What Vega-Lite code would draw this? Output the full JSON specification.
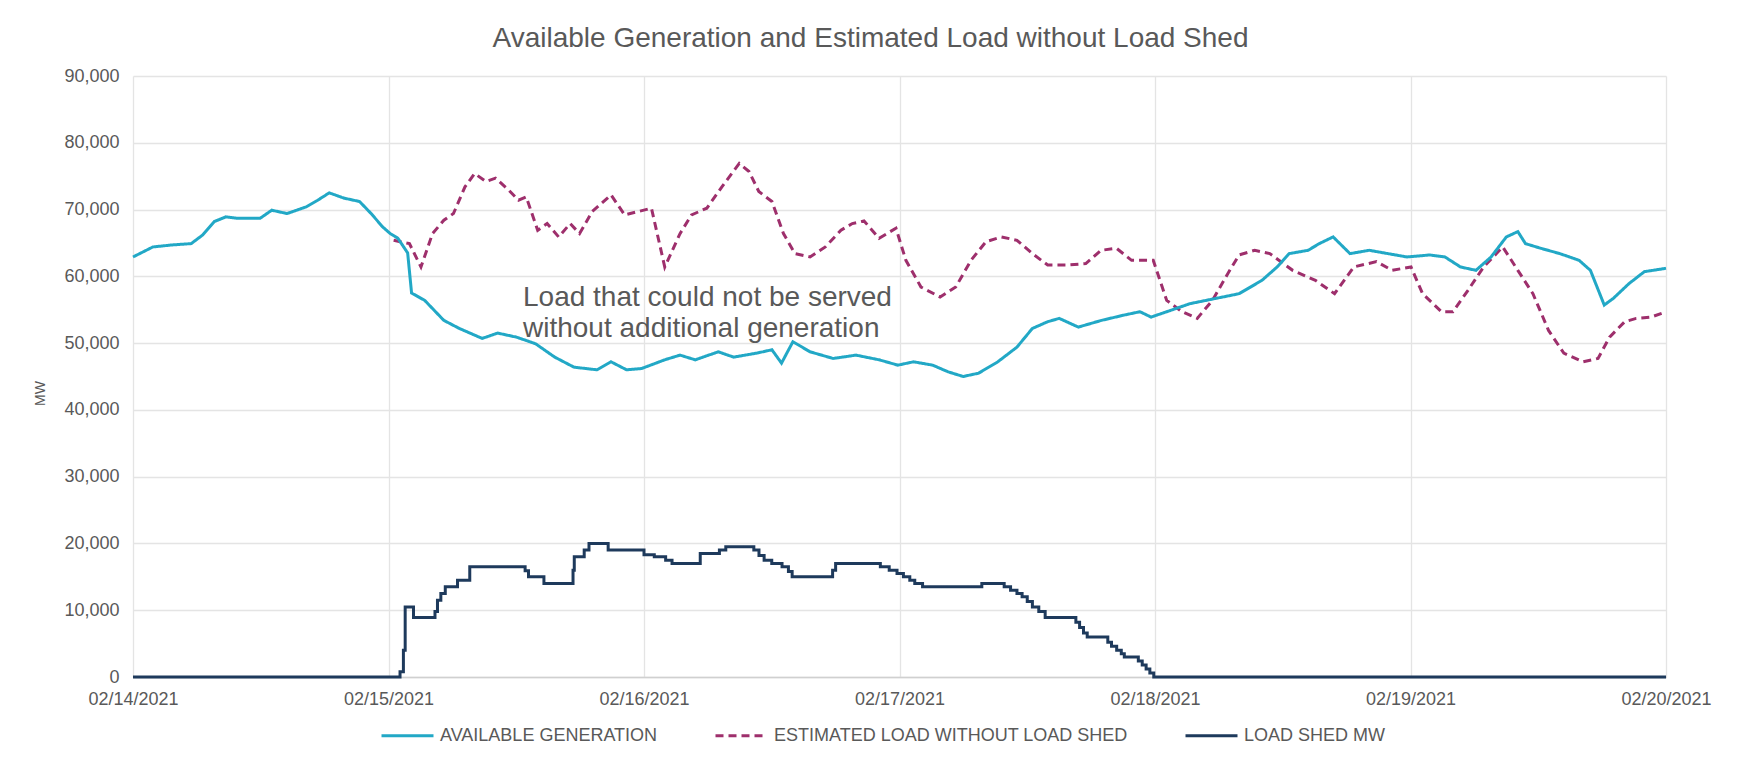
{
  "$schema": "https://vega.github.io/schema/vega-lite/v6.json",
  "width": 1533,
  "height": 601,
  "autosize": {"type": "none"},
  "padding": {"left": 133, "top": 76, "right": 71, "bottom": 85},
  "background": "white",
  "config": {
    "font": "Liberation Sans",
    "view": {"stroke": null},
    "legend": {
      "orient": "none",
      "legendX": 247,
      "legendY": 632,
      "direction": "horizontal",
      "columns": 3,
      "columnPadding": 51,
      "gridAlign": "each",
      "symbolType": "stroke",
      "symbolSize": 2704,
      "symbolStrokeWidth": 3,
      "labelFontSize": 18,
      "labelColor": "#595959",
      "labelOffset": 5,
      "labelLimit": 0
    }
  },
  "title": {
    "text": "Available Generation and Estimated Load without Load Shed",
    "fontSize": 28,
    "fontWeight": "normal",
    "color": "#595959",
    "anchor": "middle",
    "dx": -29,
    "offset": 14
  },
  "datasets": {
    "series": [
      {"t": "2021-02-14T00:00", "s": "AVAILABLE GENERATION", "v": 62900},
      {"t": "2021-02-14T01:52", "s": "AVAILABLE GENERATION", "v": 64400},
      {"t": "2021-02-14T03:40", "s": "AVAILABLE GENERATION", "v": 64700},
      {"t": "2021-02-14T05:28", "s": "AVAILABLE GENERATION", "v": 64900},
      {"t": "2021-02-14T06:33", "s": "AVAILABLE GENERATION", "v": 66200},
      {"t": "2021-02-14T07:38", "s": "AVAILABLE GENERATION", "v": 68200},
      {"t": "2021-02-14T08:43", "s": "AVAILABLE GENERATION", "v": 68900},
      {"t": "2021-02-14T09:48", "s": "AVAILABLE GENERATION", "v": 68700},
      {"t": "2021-02-14T11:57", "s": "AVAILABLE GENERATION", "v": 68700},
      {"t": "2021-02-14T13:02", "s": "AVAILABLE GENERATION", "v": 69900},
      {"t": "2021-02-14T14:28", "s": "AVAILABLE GENERATION", "v": 69400},
      {"t": "2021-02-14T16:16", "s": "AVAILABLE GENERATION", "v": 70400},
      {"t": "2021-02-14T17:21", "s": "AVAILABLE GENERATION", "v": 71400},
      {"t": "2021-02-14T18:26", "s": "AVAILABLE GENERATION", "v": 72500},
      {"t": "2021-02-14T19:51", "s": "AVAILABLE GENERATION", "v": 71700},
      {"t": "2021-02-14T21:17", "s": "AVAILABLE GENERATION", "v": 71200},
      {"t": "2021-02-14T22:22", "s": "AVAILABLE GENERATION", "v": 69400},
      {"t": "2021-02-14T23:27", "s": "AVAILABLE GENERATION", "v": 67400},
      {"t": "2021-02-15T00:10", "s": "AVAILABLE GENERATION", "v": 66400},
      {"t": "2021-02-15T00:53", "s": "AVAILABLE GENERATION", "v": 65700},
      {"t": "2021-02-15T01:48", "s": "AVAILABLE GENERATION", "v": 63500},
      {"t": "2021-02-15T02:10", "s": "AVAILABLE GENERATION", "v": 57500},
      {"t": "2021-02-15T03:24", "s": "AVAILABLE GENERATION", "v": 56400},
      {"t": "2021-02-15T05:12", "s": "AVAILABLE GENERATION", "v": 53400},
      {"t": "2021-02-15T06:39", "s": "AVAILABLE GENERATION", "v": 52200},
      {"t": "2021-02-15T08:48", "s": "AVAILABLE GENERATION", "v": 50700},
      {"t": "2021-02-15T10:15", "s": "AVAILABLE GENERATION", "v": 51500},
      {"t": "2021-02-15T12:01", "s": "AVAILABLE GENERATION", "v": 50900},
      {"t": "2021-02-15T13:49", "s": "AVAILABLE GENERATION", "v": 49900},
      {"t": "2021-02-15T15:37", "s": "AVAILABLE GENERATION", "v": 47900},
      {"t": "2021-02-15T17:25", "s": "AVAILABLE GENERATION", "v": 46400},
      {"t": "2021-02-15T19:35", "s": "AVAILABLE GENERATION", "v": 46000},
      {"t": "2021-02-15T20:54", "s": "AVAILABLE GENERATION", "v": 47200},
      {"t": "2021-02-15T22:22", "s": "AVAILABLE GENERATION", "v": 46000},
      {"t": "2021-02-15T23:47", "s": "AVAILABLE GENERATION", "v": 46200},
      {"t": "2021-02-16T01:57", "s": "AVAILABLE GENERATION", "v": 47500},
      {"t": "2021-02-16T03:23", "s": "AVAILABLE GENERATION", "v": 48200},
      {"t": "2021-02-16T04:49", "s": "AVAILABLE GENERATION", "v": 47500},
      {"t": "2021-02-16T06:59", "s": "AVAILABLE GENERATION", "v": 48700},
      {"t": "2021-02-16T08:25", "s": "AVAILABLE GENERATION", "v": 47900},
      {"t": "2021-02-16T10:35", "s": "AVAILABLE GENERATION", "v": 48500},
      {"t": "2021-02-16T12:01", "s": "AVAILABLE GENERATION", "v": 49000},
      {"t": "2021-02-16T12:55", "s": "AVAILABLE GENERATION", "v": 47000},
      {"t": "2021-02-16T13:59", "s": "AVAILABLE GENERATION", "v": 50200},
      {"t": "2021-02-16T15:36", "s": "AVAILABLE GENERATION", "v": 48700},
      {"t": "2021-02-16T17:46", "s": "AVAILABLE GENERATION", "v": 47700},
      {"t": "2021-02-16T19:55", "s": "AVAILABLE GENERATION", "v": 48200},
      {"t": "2021-02-16T22:05", "s": "AVAILABLE GENERATION", "v": 47500},
      {"t": "2021-02-16T23:51", "s": "AVAILABLE GENERATION", "v": 46700},
      {"t": "2021-02-17T01:19", "s": "AVAILABLE GENERATION", "v": 47200},
      {"t": "2021-02-17T03:07", "s": "AVAILABLE GENERATION", "v": 46700},
      {"t": "2021-02-17T04:34", "s": "AVAILABLE GENERATION", "v": 45700},
      {"t": "2021-02-17T05:59", "s": "AVAILABLE GENERATION", "v": 45000},
      {"t": "2021-02-17T07:26", "s": "AVAILABLE GENERATION", "v": 45500},
      {"t": "2021-02-17T09:14", "s": "AVAILABLE GENERATION", "v": 47200},
      {"t": "2021-02-17T11:02", "s": "AVAILABLE GENERATION", "v": 49400},
      {"t": "2021-02-17T12:29", "s": "AVAILABLE GENERATION", "v": 52200},
      {"t": "2021-02-17T13:55", "s": "AVAILABLE GENERATION", "v": 53200},
      {"t": "2021-02-17T15:00", "s": "AVAILABLE GENERATION", "v": 53700},
      {"t": "2021-02-17T16:48", "s": "AVAILABLE GENERATION", "v": 52400},
      {"t": "2021-02-17T18:58", "s": "AVAILABLE GENERATION", "v": 53400},
      {"t": "2021-02-17T21:06", "s": "AVAILABLE GENERATION", "v": 54200},
      {"t": "2021-02-17T22:35", "s": "AVAILABLE GENERATION", "v": 54700},
      {"t": "2021-02-17T23:38", "s": "AVAILABLE GENERATION", "v": 53900},
      {"t": "2021-02-18T01:28", "s": "AVAILABLE GENERATION", "v": 54900},
      {"t": "2021-02-18T03:16", "s": "AVAILABLE GENERATION", "v": 55900},
      {"t": "2021-02-18T05:44", "s": "AVAILABLE GENERATION", "v": 56700},
      {"t": "2021-02-18T07:54", "s": "AVAILABLE GENERATION", "v": 57400},
      {"t": "2021-02-18T10:03", "s": "AVAILABLE GENERATION", "v": 59400},
      {"t": "2021-02-18T11:28", "s": "AVAILABLE GENERATION", "v": 61400},
      {"t": "2021-02-18T12:36", "s": "AVAILABLE GENERATION", "v": 63400},
      {"t": "2021-02-18T14:23", "s": "AVAILABLE GENERATION", "v": 63900},
      {"t": "2021-02-18T15:26", "s": "AVAILABLE GENERATION", "v": 64900},
      {"t": "2021-02-18T16:44", "s": "AVAILABLE GENERATION", "v": 65900},
      {"t": "2021-02-18T18:19", "s": "AVAILABLE GENERATION", "v": 63400},
      {"t": "2021-02-18T20:07", "s": "AVAILABLE GENERATION", "v": 63900},
      {"t": "2021-02-18T21:53", "s": "AVAILABLE GENERATION", "v": 63400},
      {"t": "2021-02-18T23:40", "s": "AVAILABLE GENERATION", "v": 62900},
      {"t": "2021-02-19T01:49", "s": "AVAILABLE GENERATION", "v": 63200},
      {"t": "2021-02-19T03:14", "s": "AVAILABLE GENERATION", "v": 62900},
      {"t": "2021-02-19T04:42", "s": "AVAILABLE GENERATION", "v": 61400},
      {"t": "2021-02-19T06:09", "s": "AVAILABLE GENERATION", "v": 60900},
      {"t": "2021-02-19T07:34", "s": "AVAILABLE GENERATION", "v": 62900},
      {"t": "2021-02-19T09:00", "s": "AVAILABLE GENERATION", "v": 65900},
      {"t": "2021-02-19T10:05", "s": "AVAILABLE GENERATION", "v": 66700},
      {"t": "2021-02-19T10:48", "s": "AVAILABLE GENERATION", "v": 64900},
      {"t": "2021-02-19T12:14", "s": "AVAILABLE GENERATION", "v": 64200},
      {"t": "2021-02-19T14:02", "s": "AVAILABLE GENERATION", "v": 63400},
      {"t": "2021-02-19T15:50", "s": "AVAILABLE GENERATION", "v": 62400},
      {"t": "2021-02-19T16:54", "s": "AVAILABLE GENERATION", "v": 60900},
      {"t": "2021-02-19T18:12", "s": "AVAILABLE GENERATION", "v": 55700},
      {"t": "2021-02-19T19:03", "s": "AVAILABLE GENERATION", "v": 56700},
      {"t": "2021-02-19T20:31", "s": "AVAILABLE GENERATION", "v": 58900},
      {"t": "2021-02-19T21:58", "s": "AVAILABLE GENERATION", "v": 60700},
      {"t": "2021-02-20T00:00", "s": "AVAILABLE GENERATION", "v": 61200},

      {"t": "2021-02-15T00:29", "s": "ESTIMATED LOAD WITHOUT LOAD SHED", "v": 65400},
      {"t": "2021-02-15T01:58", "s": "ESTIMATED LOAD WITHOUT LOAD SHED", "v": 64900},
      {"t": "2021-02-15T03:03", "s": "ESTIMATED LOAD WITHOUT LOAD SHED", "v": 61400},
      {"t": "2021-02-15T04:08", "s": "ESTIMATED LOAD WITHOUT LOAD SHED", "v": 66400},
      {"t": "2021-02-15T05:12", "s": "ESTIMATED LOAD WITHOUT LOAD SHED", "v": 68400},
      {"t": "2021-02-15T06:06", "s": "ESTIMATED LOAD WITHOUT LOAD SHED", "v": 69400},
      {"t": "2021-02-15T07:11", "s": "ESTIMATED LOAD WITHOUT LOAD SHED", "v": 73400},
      {"t": "2021-02-15T08:05", "s": "ESTIMATED LOAD WITHOUT LOAD SHED", "v": 75400},
      {"t": "2021-02-15T09:09", "s": "ESTIMATED LOAD WITHOUT LOAD SHED", "v": 74200},
      {"t": "2021-02-15T10:03", "s": "ESTIMATED LOAD WITHOUT LOAD SHED", "v": 74700},
      {"t": "2021-02-15T11:18", "s": "ESTIMATED LOAD WITHOUT LOAD SHED", "v": 72900},
      {"t": "2021-02-15T12:13", "s": "ESTIMATED LOAD WITHOUT LOAD SHED", "v": 71400},
      {"t": "2021-02-15T12:56", "s": "ESTIMATED LOAD WITHOUT LOAD SHED", "v": 71900},
      {"t": "2021-02-15T14:01", "s": "ESTIMATED LOAD WITHOUT LOAD SHED", "v": 66900},
      {"t": "2021-02-15T14:54", "s": "ESTIMATED LOAD WITHOUT LOAD SHED", "v": 67900},
      {"t": "2021-02-15T15:59", "s": "ESTIMATED LOAD WITHOUT LOAD SHED", "v": 65900},
      {"t": "2021-02-15T17:04", "s": "ESTIMATED LOAD WITHOUT LOAD SHED", "v": 67900},
      {"t": "2021-02-15T17:57", "s": "ESTIMATED LOAD WITHOUT LOAD SHED", "v": 66400},
      {"t": "2021-02-15T19:08", "s": "ESTIMATED LOAD WITHOUT LOAD SHED", "v": 69700},
      {"t": "2021-02-15T20:54", "s": "ESTIMATED LOAD WITHOUT LOAD SHED", "v": 72200},
      {"t": "2021-02-15T22:11", "s": "ESTIMATED LOAD WITHOUT LOAD SHED", "v": 69200},
      {"t": "2021-02-16T00:42", "s": "ESTIMATED LOAD WITHOUT LOAD SHED", "v": 70200},
      {"t": "2021-02-16T01:57", "s": "ESTIMATED LOAD WITHOUT LOAD SHED", "v": 61400},
      {"t": "2021-02-16T03:23", "s": "ESTIMATED LOAD WITHOUT LOAD SHED", "v": 66400},
      {"t": "2021-02-16T04:28", "s": "ESTIMATED LOAD WITHOUT LOAD SHED", "v": 69200},
      {"t": "2021-02-16T05:54", "s": "ESTIMATED LOAD WITHOUT LOAD SHED", "v": 70200},
      {"t": "2021-02-16T07:19", "s": "ESTIMATED LOAD WITHOUT LOAD SHED", "v": 73400},
      {"t": "2021-02-16T08:57", "s": "ESTIMATED LOAD WITHOUT LOAD SHED", "v": 76900},
      {"t": "2021-02-16T09:52", "s": "ESTIMATED LOAD WITHOUT LOAD SHED", "v": 75700},
      {"t": "2021-02-16T10:47", "s": "ESTIMATED LOAD WITHOUT LOAD SHED", "v": 72700},
      {"t": "2021-02-16T12:01", "s": "ESTIMATED LOAD WITHOUT LOAD SHED", "v": 71200},
      {"t": "2021-02-16T13:06", "s": "ESTIMATED LOAD WITHOUT LOAD SHED", "v": 66400},
      {"t": "2021-02-16T14:11", "s": "ESTIMATED LOAD WITHOUT LOAD SHED", "v": 63400},
      {"t": "2021-02-16T15:36", "s": "ESTIMATED LOAD WITHOUT LOAD SHED", "v": 62900},
      {"t": "2021-02-16T17:02", "s": "ESTIMATED LOAD WITHOUT LOAD SHED", "v": 64400},
      {"t": "2021-02-16T18:30", "s": "ESTIMATED LOAD WITHOUT LOAD SHED", "v": 66900},
      {"t": "2021-02-16T19:34", "s": "ESTIMATED LOAD WITHOUT LOAD SHED", "v": 67900},
      {"t": "2021-02-16T20:40", "s": "ESTIMATED LOAD WITHOUT LOAD SHED", "v": 68300},
      {"t": "2021-02-16T22:05", "s": "ESTIMATED LOAD WITHOUT LOAD SHED", "v": 65700},
      {"t": "2021-02-16T23:40", "s": "ESTIMATED LOAD WITHOUT LOAD SHED", "v": 67200},
      {"t": "2021-02-17T00:36", "s": "ESTIMATED LOAD WITHOUT LOAD SHED", "v": 62400},
      {"t": "2021-02-17T02:01", "s": "ESTIMATED LOAD WITHOUT LOAD SHED", "v": 58400},
      {"t": "2021-02-17T03:49", "s": "ESTIMATED LOAD WITHOUT LOAD SHED", "v": 56900},
      {"t": "2021-02-17T05:17", "s": "ESTIMATED LOAD WITHOUT LOAD SHED", "v": 58400},
      {"t": "2021-02-17T06:43", "s": "ESTIMATED LOAD WITHOUT LOAD SHED", "v": 62400},
      {"t": "2021-02-17T08:08", "s": "ESTIMATED LOAD WITHOUT LOAD SHED", "v": 65200},
      {"t": "2021-02-17T09:35", "s": "ESTIMATED LOAD WITHOUT LOAD SHED", "v": 65900},
      {"t": "2021-02-17T11:02", "s": "ESTIMATED LOAD WITHOUT LOAD SHED", "v": 65400},
      {"t": "2021-02-17T12:29", "s": "ESTIMATED LOAD WITHOUT LOAD SHED", "v": 63400},
      {"t": "2021-02-17T13:55", "s": "ESTIMATED LOAD WITHOUT LOAD SHED", "v": 61700},
      {"t": "2021-02-17T15:43", "s": "ESTIMATED LOAD WITHOUT LOAD SHED", "v": 61700},
      {"t": "2021-02-17T17:30", "s": "ESTIMATED LOAD WITHOUT LOAD SHED", "v": 61900},
      {"t": "2021-02-17T18:56", "s": "ESTIMATED LOAD WITHOUT LOAD SHED", "v": 63900},
      {"t": "2021-02-17T20:23", "s": "ESTIMATED LOAD WITHOUT LOAD SHED", "v": 64200},
      {"t": "2021-02-17T21:48", "s": "ESTIMATED LOAD WITHOUT LOAD SHED", "v": 62400},
      {"t": "2021-02-17T23:50", "s": "ESTIMATED LOAD WITHOUT LOAD SHED", "v": 62400},
      {"t": "2021-02-18T01:06", "s": "ESTIMATED LOAD WITHOUT LOAD SHED", "v": 56400},
      {"t": "2021-02-18T02:33", "s": "ESTIMATED LOAD WITHOUT LOAD SHED", "v": 54700},
      {"t": "2021-02-18T03:58", "s": "ESTIMATED LOAD WITHOUT LOAD SHED", "v": 53700},
      {"t": "2021-02-18T05:24", "s": "ESTIMATED LOAD WITHOUT LOAD SHED", "v": 56400},
      {"t": "2021-02-18T06:50", "s": "ESTIMATED LOAD WITHOUT LOAD SHED", "v": 60400},
      {"t": "2021-02-18T07:54", "s": "ESTIMATED LOAD WITHOUT LOAD SHED", "v": 63200},
      {"t": "2021-02-18T09:22", "s": "ESTIMATED LOAD WITHOUT LOAD SHED", "v": 63900},
      {"t": "2021-02-18T10:47", "s": "ESTIMATED LOAD WITHOUT LOAD SHED", "v": 63400},
      {"t": "2021-02-18T12:56", "s": "ESTIMATED LOAD WITHOUT LOAD SHED", "v": 60900},
      {"t": "2021-02-18T15:04", "s": "ESTIMATED LOAD WITHOUT LOAD SHED", "v": 59400},
      {"t": "2021-02-18T16:52", "s": "ESTIMATED LOAD WITHOUT LOAD SHED", "v": 57400},
      {"t": "2021-02-18T18:40", "s": "ESTIMATED LOAD WITHOUT LOAD SHED", "v": 61400},
      {"t": "2021-02-18T20:48", "s": "ESTIMATED LOAD WITHOUT LOAD SHED", "v": 62200},
      {"t": "2021-02-18T22:16", "s": "ESTIMATED LOAD WITHOUT LOAD SHED", "v": 60900},
      {"t": "2021-02-19T00:03", "s": "ESTIMATED LOAD WITHOUT LOAD SHED", "v": 61400},
      {"t": "2021-02-19T01:08", "s": "ESTIMATED LOAD WITHOUT LOAD SHED", "v": 57400},
      {"t": "2021-02-19T02:54", "s": "ESTIMATED LOAD WITHOUT LOAD SHED", "v": 54700},
      {"t": "2021-02-19T03:59", "s": "ESTIMATED LOAD WITHOUT LOAD SHED", "v": 54700},
      {"t": "2021-02-19T05:24", "s": "ESTIMATED LOAD WITHOUT LOAD SHED", "v": 57900},
      {"t": "2021-02-19T06:52", "s": "ESTIMATED LOAD WITHOUT LOAD SHED", "v": 61400},
      {"t": "2021-02-19T08:40", "s": "ESTIMATED LOAD WITHOUT LOAD SHED", "v": 64400},
      {"t": "2021-02-19T10:05", "s": "ESTIMATED LOAD WITHOUT LOAD SHED", "v": 60900},
      {"t": "2021-02-19T11:30", "s": "ESTIMATED LOAD WITHOUT LOAD SHED", "v": 57400},
      {"t": "2021-02-19T12:58", "s": "ESTIMATED LOAD WITHOUT LOAD SHED", "v": 51900},
      {"t": "2021-02-19T14:24", "s": "ESTIMATED LOAD WITHOUT LOAD SHED", "v": 48500},
      {"t": "2021-02-19T16:11", "s": "ESTIMATED LOAD WITHOUT LOAD SHED", "v": 47200},
      {"t": "2021-02-19T17:37", "s": "ESTIMATED LOAD WITHOUT LOAD SHED", "v": 47700},
      {"t": "2021-02-19T18:42", "s": "ESTIMATED LOAD WITHOUT LOAD SHED", "v": 50900},
      {"t": "2021-02-19T20:07", "s": "ESTIMATED LOAD WITHOUT LOAD SHED", "v": 53200},
      {"t": "2021-02-19T21:12", "s": "ESTIMATED LOAD WITHOUT LOAD SHED", "v": 53700},
      {"t": "2021-02-19T22:36", "s": "ESTIMATED LOAD WITHOUT LOAD SHED", "v": 53900},
      {"t": "2021-02-20T00:00", "s": "ESTIMATED LOAD WITHOUT LOAD SHED", "v": 54700},

      {"t": "2021-02-14T00:00", "s": "LOAD SHED MW", "v": 0},
      {"t": "2021-02-15T01:05", "s": "LOAD SHED MW", "v": 800},
      {"t": "2021-02-15T01:24", "s": "LOAD SHED MW", "v": 4000},
      {"t": "2021-02-15T01:34", "s": "LOAD SHED MW", "v": 10500},
      {"t": "2021-02-15T02:21", "s": "LOAD SHED MW", "v": 8900},
      {"t": "2021-02-15T04:22", "s": "LOAD SHED MW", "v": 9800},
      {"t": "2021-02-15T04:36", "s": "LOAD SHED MW", "v": 11500},
      {"t": "2021-02-15T04:55", "s": "LOAD SHED MW", "v": 12500},
      {"t": "2021-02-15T05:20", "s": "LOAD SHED MW", "v": 13500},
      {"t": "2021-02-15T06:29", "s": "LOAD SHED MW", "v": 14500},
      {"t": "2021-02-15T07:38", "s": "LOAD SHED MW", "v": 16500},
      {"t": "2021-02-15T12:50", "s": "LOAD SHED MW", "v": 15900},
      {"t": "2021-02-15T13:09", "s": "LOAD SHED MW", "v": 15000},
      {"t": "2021-02-15T14:36", "s": "LOAD SHED MW", "v": 14000},
      {"t": "2021-02-15T17:20", "s": "LOAD SHED MW", "v": 16000},
      {"t": "2021-02-15T17:27", "s": "LOAD SHED MW", "v": 18000},
      {"t": "2021-02-15T18:23", "s": "LOAD SHED MW", "v": 19000},
      {"t": "2021-02-15T18:50", "s": "LOAD SHED MW", "v": 20000},
      {"t": "2021-02-15T20:38", "s": "LOAD SHED MW", "v": 19000},
      {"t": "2021-02-16T00:00", "s": "LOAD SHED MW", "v": 18300},
      {"t": "2021-02-16T00:58", "s": "LOAD SHED MW", "v": 18000},
      {"t": "2021-02-16T02:02", "s": "LOAD SHED MW", "v": 17500},
      {"t": "2021-02-16T02:38", "s": "LOAD SHED MW", "v": 17000},
      {"t": "2021-02-16T05:17", "s": "LOAD SHED MW", "v": 18500},
      {"t": "2021-02-16T07:05", "s": "LOAD SHED MW", "v": 19000},
      {"t": "2021-02-16T07:41", "s": "LOAD SHED MW", "v": 19500},
      {"t": "2021-02-16T10:19", "s": "LOAD SHED MW", "v": 19000},
      {"t": "2021-02-16T10:48", "s": "LOAD SHED MW", "v": 18200},
      {"t": "2021-02-16T11:17", "s": "LOAD SHED MW", "v": 17500},
      {"t": "2021-02-16T12:00", "s": "LOAD SHED MW", "v": 17000},
      {"t": "2021-02-16T12:58", "s": "LOAD SHED MW", "v": 16500},
      {"t": "2021-02-16T13:34", "s": "LOAD SHED MW", "v": 15800},
      {"t": "2021-02-16T13:55", "s": "LOAD SHED MW", "v": 15000},
      {"t": "2021-02-16T17:43", "s": "LOAD SHED MW", "v": 16000},
      {"t": "2021-02-16T18:00", "s": "LOAD SHED MW", "v": 17000},
      {"t": "2021-02-16T22:12", "s": "LOAD SHED MW", "v": 16500},
      {"t": "2021-02-16T23:02", "s": "LOAD SHED MW", "v": 16000},
      {"t": "2021-02-16T23:46", "s": "LOAD SHED MW", "v": 15500},
      {"t": "2021-02-17T00:22", "s": "LOAD SHED MW", "v": 15000},
      {"t": "2021-02-17T00:58", "s": "LOAD SHED MW", "v": 14500},
      {"t": "2021-02-17T01:26", "s": "LOAD SHED MW", "v": 14000},
      {"t": "2021-02-17T02:10", "s": "LOAD SHED MW", "v": 13500},
      {"t": "2021-02-17T07:44", "s": "LOAD SHED MW", "v": 14000},
      {"t": "2021-02-17T09:50", "s": "LOAD SHED MW", "v": 13500},
      {"t": "2021-02-17T10:26", "s": "LOAD SHED MW", "v": 13000},
      {"t": "2021-02-17T11:02", "s": "LOAD SHED MW", "v": 12500},
      {"t": "2021-02-17T11:31", "s": "LOAD SHED MW", "v": 12000},
      {"t": "2021-02-17T12:00", "s": "LOAD SHED MW", "v": 11300},
      {"t": "2021-02-17T12:29", "s": "LOAD SHED MW", "v": 10500},
      {"t": "2021-02-17T13:05", "s": "LOAD SHED MW", "v": 9800},
      {"t": "2021-02-17T13:41", "s": "LOAD SHED MW", "v": 8900},
      {"t": "2021-02-17T16:34", "s": "LOAD SHED MW", "v": 8200},
      {"t": "2021-02-17T16:55", "s": "LOAD SHED MW", "v": 7400},
      {"t": "2021-02-17T17:17", "s": "LOAD SHED MW", "v": 6600},
      {"t": "2021-02-17T17:38", "s": "LOAD SHED MW", "v": 6000},
      {"t": "2021-02-17T19:34", "s": "LOAD SHED MW", "v": 5200},
      {"t": "2021-02-17T19:55", "s": "LOAD SHED MW", "v": 4600},
      {"t": "2021-02-17T20:24", "s": "LOAD SHED MW", "v": 4000},
      {"t": "2021-02-17T20:50", "s": "LOAD SHED MW", "v": 3500},
      {"t": "2021-02-17T21:07", "s": "LOAD SHED MW", "v": 3000},
      {"t": "2021-02-17T22:26", "s": "LOAD SHED MW", "v": 2400},
      {"t": "2021-02-17T22:48", "s": "LOAD SHED MW", "v": 1800},
      {"t": "2021-02-17T23:10", "s": "LOAD SHED MW", "v": 1200},
      {"t": "2021-02-17T23:31", "s": "LOAD SHED MW", "v": 600},
      {"t": "2021-02-17T23:53", "s": "LOAD SHED MW", "v": 0},
      {"t": "2021-02-20T00:00", "s": "LOAD SHED MW", "v": 0}
    ],
    "notes": [
      {"t": "2021-02-15T12:38", "v": 55500, "txt": "Load that could not be served"},
      {"t": "2021-02-15T12:38", "v": 50900, "txt": "without additional generation"}
    ]
  },
  "encoding": {
    "x": {
      "field": "t",
      "type": "temporal",
      "title": null,
      "scale": {"domain": [{"year": 2021, "month": 2, "date": 14}, {"year": 2021, "month": 2, "date": 20}]},
      "axis": {
        "values": [
          {"year": 2021, "month": 2, "date": 14},
          {"year": 2021, "month": 2, "date": 15},
          {"year": 2021, "month": 2, "date": 16},
          {"year": 2021, "month": 2, "date": 17},
          {"year": 2021, "month": 2, "date": 18},
          {"year": 2021, "month": 2, "date": 19},
          {"year": 2021, "month": 2, "date": 20}
        ],
        "format": "%m/%d/%Y",
        "labelFontSize": 18,
        "labelColor": "#595959",
        "labelPadding": 13,
        "labelFlush": false,
        "labelOverlap": false,
        "labelBound": false,
        "ticks": false,
        "domainColor": "#d0d0d0",
        "domainWidth": 1.5,
        "grid": true,
        "gridColor": "#e4e4e4",
        "gridWidth": 1.3
      }
    },
    "y": {
      "field": "v",
      "type": "quantitative",
      "scale": {"domain": [0, 90000], "nice": false},
      "axis": {
        "values": [0, 10000, 20000, 30000, 40000, 50000, 60000, 70000, 80000, 90000],
        "format": ",d",
        "labelFontSize": 18,
        "labelColor": "#595959",
        "labelPadding": 14,
        "ticks": false,
        "domain": false,
        "grid": true,
        "gridColor": "#e4e4e4",
        "gridWidth": 1.3,
        "title": "MW",
        "titleFontSize": 14,
        "titleFontWeight": "normal",
        "titleColor": "#595959",
        "titleX": -93,
        "titleY": 317,
        "titleAngle": -90,
        "titleAlign": "center",
        "titleBaseline": "middle"
      }
    }
  },
  "layer": [
    {
      "data": {"name": "series"},
      "transform": [{"filter": "datum.s == 'ESTIMATED LOAD WITHOUT LOAD SHED'"}],
      "mark": {"type": "line", "strokeWidth": 3},
      "encoding": {
        "color": {"field": "s", "type": "nominal", "title": null,
          "scale": {"domain": ["AVAILABLE GENERATION", "ESTIMATED LOAD WITHOUT LOAD SHED", "LOAD SHED MW"], "range": ["#22A8C6", "#9E2F6C", "#1E3A5C"]}},
        "strokeDash": {"field": "s", "type": "nominal", "title": null,
          "scale": {"domain": ["AVAILABLE GENERATION", "ESTIMATED LOAD WITHOUT LOAD SHED", "LOAD SHED MW"], "range": [[1, 0], [8, 5], [1, 0]]}}
      }
    },
    {
      "data": {"name": "series"},
      "transform": [{"filter": "datum.s == 'AVAILABLE GENERATION'"}],
      "mark": {"type": "line", "strokeWidth": 3},
      "encoding": {
        "color": {"field": "s", "type": "nominal", "title": null,
          "scale": {"domain": ["AVAILABLE GENERATION", "ESTIMATED LOAD WITHOUT LOAD SHED", "LOAD SHED MW"], "range": ["#22A8C6", "#9E2F6C", "#1E3A5C"]}},
        "strokeDash": {"field": "s", "type": "nominal", "title": null,
          "scale": {"domain": ["AVAILABLE GENERATION", "ESTIMATED LOAD WITHOUT LOAD SHED", "LOAD SHED MW"], "range": [[1, 0], [8, 5], [1, 0]]}}
      }
    },
    {
      "data": {"name": "series"},
      "transform": [{"filter": "datum.s == 'LOAD SHED MW'"}],
      "mark": {"type": "line", "strokeWidth": 3, "interpolate": "step-after"},
      "encoding": {
        "color": {"field": "s", "type": "nominal", "title": null,
          "scale": {"domain": ["AVAILABLE GENERATION", "ESTIMATED LOAD WITHOUT LOAD SHED", "LOAD SHED MW"], "range": ["#22A8C6", "#9E2F6C", "#1E3A5C"]}},
        "strokeDash": {"field": "s", "type": "nominal", "title": null,
          "scale": {"domain": ["AVAILABLE GENERATION", "ESTIMATED LOAD WITHOUT LOAD SHED", "LOAD SHED MW"], "range": [[1, 0], [8, 5], [1, 0]]}}
      }
    },
    {
      "data": {"name": "notes"},
      "mark": {"type": "text", "align": "left", "baseline": "alphabetic", "fontSize": 28, "color": "#595959"},
      "encoding": {"text": {"field": "txt"}}
    }
  ]
}
